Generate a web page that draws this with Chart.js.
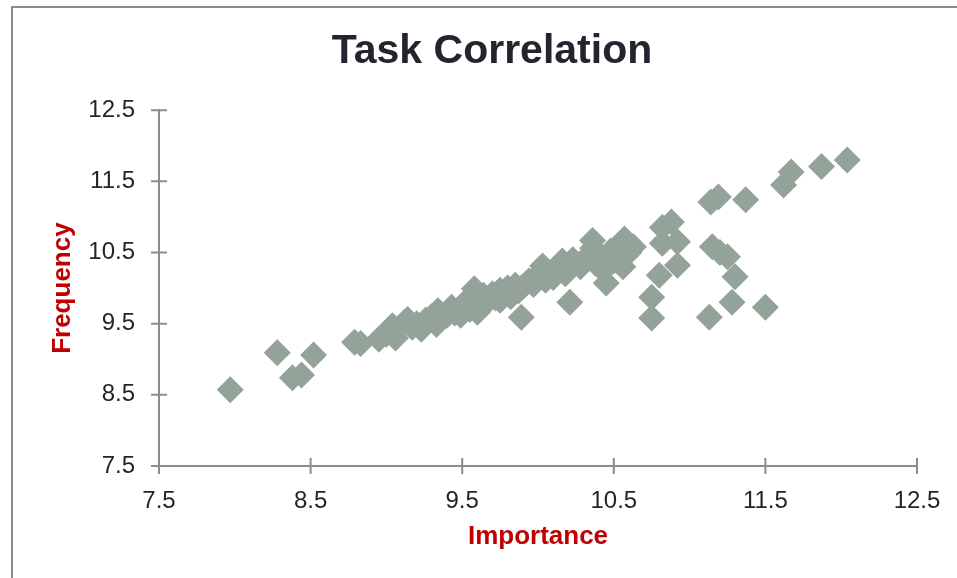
<!DOCTYPE html>
<html lang="en">

<head>
  <meta charset="UTF-8">
  <title>Task Correlation</title>
  <script src="https://cdn.jsdelivr.net/npm/chart.js@4.4.1/dist/chart.umd.min.js"></script>
</head>

<body>
  <style>
    body { margin: 0; background: #fff; }
    #frame {
      position: absolute; left: 11px; top: 6px; width: 960px; height: 580px;
      border-left: 2px solid #8c8c8c; border-top: 2px solid #8c8c8c;
    }
    #wrap { position: absolute; left: 0; top: 0; width: 957px; height: 578px; }
  </style>

  <div id="frame"></div>
  <div id="wrap"><canvas id="myChart"></canvas></div>
  <script>

    // importance / frequency score pairs, one entry per task
    const importance = [
      7.97, 8.28, 8.38, 8.44, 8.52, 8.79, 8.83,
      8.95, 9.00, 9.04, 9.06, 9.08, 9.12, 9.14, 9.17, 9.20, 9.23, 9.26, 9.30, 9.33, 9.34,
      9.37, 9.40, 9.43, 9.45, 9.49, 9.50, 9.52, 9.55, 9.58, 9.58, 9.60, 9.62, 9.64, 9.67,
      9.70, 9.72, 9.75, 9.75, 9.78, 9.80, 9.82, 9.85, 9.87, 9.90, 9.94, 9.97, 10.00, 10.03,
      10.05, 10.08, 10.10, 10.13, 10.16, 10.18, 10.20, 10.23, 10.28, 10.33, 10.36, 10.38,
      10.40, 10.43, 10.45, 10.48, 10.50, 10.53, 10.56, 10.57, 10.60, 10.63,
      9.89, 10.21, 10.45, 10.36,
      10.82, 10.88, 10.92, 10.82, 10.92, 10.80, 10.75, 10.75,
      11.13, 11.15, 11.20, 11.25, 11.30, 11.28, 11.50,
      11.14, 11.19, 11.37, 11.62, 11.67, 11.87, 12.04
    ];
    const frequency = [
      8.57, 9.09, 8.74, 8.78, 9.06, 9.24, 9.22,
      9.28, 9.35, 9.47, 9.30, 9.42, 9.52, 9.56, 9.45, 9.50, 9.42, 9.55, 9.60, 9.49, 9.68,
      9.58, 9.62, 9.73, 9.65, 9.62, 9.75, 9.80, 9.70, 9.99, 9.85, 9.66, 9.78, 9.90, 9.82,
      9.92, 9.86, 9.97, 9.83, 9.95, 10.00, 9.88, 10.04, 9.96, 10.02, 10.10, 10.05, 10.18, 10.31,
      10.11, 10.22, 10.15, 10.28, 10.38, 10.20, 10.32, 10.40, 10.30, 10.45, 10.56, 10.35,
      10.48, 10.25, 10.40, 10.52, 10.38, 10.45, 10.30, 10.69, 10.50, 10.58,
      9.59, 9.80, 10.07, 10.67,
      10.85, 10.93, 10.65, 10.63, 10.32, 10.18, 9.87, 9.58,
      9.59, 10.58, 10.50, 10.44, 10.16, 9.80, 9.73,
      11.21, 11.28, 11.24, 11.45, 11.63, 11.71, 11.80
    ];
    const axisTicks = [7.5, 8.5, 9.5, 10.5, 11.5, 12.5];

    const points = importance.map((x, i) => ({ x, y: frequency[i] }));

    const axisGrey = '#8c8c8c';
    const labelRed = '#c00000';
    const textDark = '#24242e';
    const fontFamily = 'Liberation Sans, Arial, sans-serif';

    // small tick marks that cross the axis line on both sides
    const crossTicks = {
      id: 'crossTicks',
      afterDraw(chart) {
        const { ctx, chartArea, scales } = chart;
        ctx.save();
        ctx.strokeStyle = axisGrey;
        ctx.lineWidth = 2;
        ctx.beginPath();
        axisTicks.forEach(v => {
          const px = scales.x.getPixelForValue(v);
          ctx.moveTo(px, chartArea.bottom - 8);
          ctx.lineTo(px, chartArea.bottom + 8);
          const py = scales.y.getPixelForValue(v);
          ctx.moveTo(chartArea.left - 8, py);
          ctx.lineTo(chartArea.left + 8, py);
        });
        ctx.stroke();
        ctx.restore();
      }
    };

    const config = {
      type: 'scatter',
      data: {
        datasets: [{
          data: points,
          pointStyle: 'rectRot',
          pointRadius: 13.5,
          pointHoverRadius: 13.5,
          backgroundColor: '#94a39a',
          borderWidth: 0,
        }]
      },
      options: {
        responsive: true,
        maintainAspectRatio: false,
        animation: false,
        layout: { padding: { left: 47, right: 20, top: 27, bottom: 0 } },
        plugins: {
          legend: { display: false },
          tooltip: { enabled: false },
          title: {
            display: true,
            text: 'Task Correlation',
            color: textDark,
            font: { family: fontFamily, size: 41, weight: 'bold' },
            padding: { top: 0, bottom: 34 }
          }
        },
        scales: {
          x: {
            type: 'linear',
            min: 7.5,
            max: 12.5,
            afterBuildTicks: s => { s.ticks = axisTicks.map(value => ({ value })); },
            afterFit: s => { s.height = 112; s.paddingRight = 40; },
            grid: { display: false },
            border: { color: axisGrey, width: 2 },
            ticks: {
              padding: 13,
              color: textDark,
              font: { family: fontFamily, size: 24 },
              callback: v => v.toFixed(1)
            },
            title: {
              display: true,
              text: 'Importance',
              color: labelRed,
              font: { family: fontFamily, size: 26, weight: 'bold' },
              padding: { top: 0, bottom: 26 }
            }
          },
          y: {
            type: 'linear',
            min: 7.5,
            max: 12.5,
            afterBuildTicks: s => { s.ticks = axisTicks.map(value => ({ value })); },
            afterFit: s => { s.width = 112; },
            grid: { display: false },
            border: { color: axisGrey, width: 2 },
            ticks: {
              padding: 16,
              color: textDark,
              font: { family: fontFamily, size: 24 },
              callback: v => v.toFixed(1)
            },
            title: {
              display: true,
              text: 'Frequency',
              color: labelRed,
              font: { family: fontFamily, size: 26, weight: 'bold' },
              padding: 0
            }
          }
        }
      },
      plugins: [crossTicks]
    };

    const myChart = new Chart(document.getElementById('myChart'), config);

  </script>

</body>

</html>
